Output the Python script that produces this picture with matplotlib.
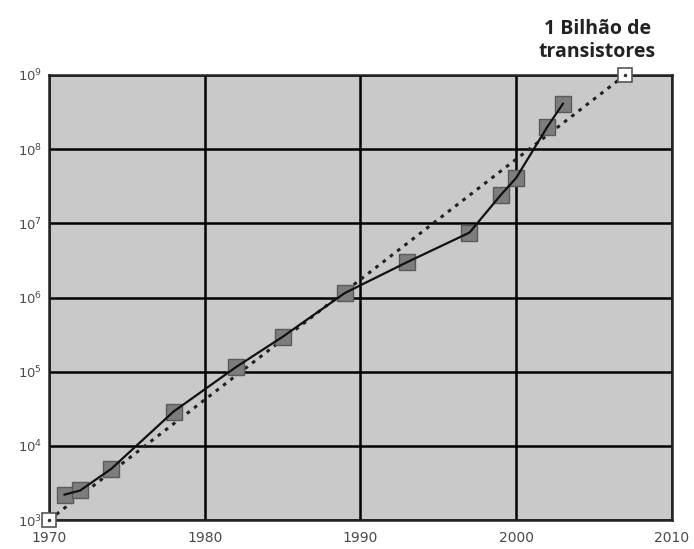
import matplotlib
matplotlib.use("Agg")
import matplotlib.pyplot as plt
import numpy as np

years = [1971, 1972, 1974, 1978, 1982, 1985, 1989, 1993, 1997, 1999, 2000, 2002, 2003]
transistors = [2200, 2500, 4900, 29000, 115000, 295000, 1.15e6, 3.0e6, 7.5e6, 2.4e7, 4.1e7, 2.0e8, 4.1e8]
trend_years = [1970, 2007]
trend_values = [1e3, 1e9]
x_ticks = [1970, 1980, 1990, 2000, 2010]
y_ticks = [1e3, 1e4, 1e5, 1e6, 1e7, 1e8, 1e9]
y_labels = [r"$10^{3}$", r"$10^{4}$", r"$10^{5}$", r"$10^{6}$", r"$10^{7}$", r"$10^{8}$", r"$10^{9}$"]
annotation = "1 Bilhão de\ntransistores"

fig = plt.figure(figsize=(6.94, 5.49), dpi=100)
ax = fig.add_axes([0.0706, 0.0528, 0.8976, 0.8106])
ax.set_facecolor("#c9c9c9")
ax.set_yscale("log")
ax.set_xlim(1970, 2010)
ax.set_ylim(1e3, 1e9)
ax.set_xticks(x_ticks)
ax.set_yticks(y_ticks)
ax.set_yticklabels(y_labels)
ax.minorticks_off()
ax.tick_params(axis="y", length=0, pad=5, labelsize=9.5, colors="#4a4a4a")
ax.tick_params(axis="x", length=0, pad=8, labelsize=10, colors="#4a4a4a")
ax.grid(True, color="black", linewidth=1.8)
for sp in ax.spines.values():
    sp.set_linewidth(1.8)
    sp.set_color("#222222")

ax.plot(trend_years, trend_values, linestyle=(0, (1.2, 1.8)), color="#222222", linewidth=2.2,
        zorder=3, clip_on=False)
ax.plot(trend_years, trend_values, linestyle="none", marker="s", markersize=10,
        markerfacecolor="white", markeredgecolor="#555555", markeredgewidth=1.2, zorder=5, clip_on=False)
ax.plot(trend_years, trend_values, linestyle="none", marker=".", markersize=3,
        color="#333333", zorder=6, clip_on=False)

ax.plot(years, transistors, linestyle="none", zorder=4,
        marker="s", markersize=11, markerfacecolor="#7d7d7d", markeredgecolor="#5a5a5a",
        markeredgewidth=1.0, clip_on=False)
ax.plot(years, transistors, color="#111111", linewidth=1.6, zorder=4.5)

ax.text(2005.2, 10 ** 9.18, annotation, ha="center", va="bottom", fontsize=14,
        fontweight="bold", family="Open Sans", color="#222222", linespacing=1.15)

fig.savefig("out.png", dpi=100)
